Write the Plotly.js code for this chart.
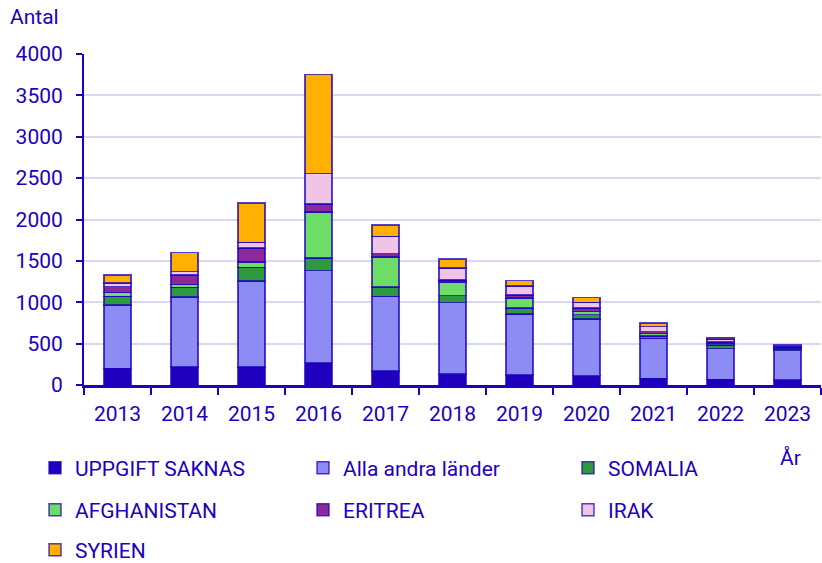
<!DOCTYPE html>
<html>
<head>
<meta charset="utf-8">
<script src="https://cdn.plot.ly/plotly-3.0.1.min.js"></script>
<style>html,body{margin:0;padding:0;background:#fff;}#chart{width:822px;height:563px;}</style>
</head>
<body>
<div id="chart"></div>
<script>
const years = ['2013','2014','2015','2016','2017','2018','2019','2020','2021','2022','2023'];
const uppgiftSaknas = [200, 215, 215, 270, 170, 133, 121, 113, 81, 69, 60];
const allaAndra     = [765, 846, 1044, 1113, 900, 863, 738, 682, 484, 370, 355];
const somalia       = [105, 120, 164, 154, 115, 85, 69, 56, 30, 45, 20];
const afghanistan   = [50, 33, 65, 556, 363, 162, 125, 36, 26, 20, 15];
const eritrea       = [70, 117, 169, 97, 40, 27, 32, 41, 24, 16, 12];
const irak          = [40, 40, 68, 363, 209, 142, 109, 72, 60, 33, 12];
const syrien        = [100, 229, 475, 1200, 134, 113, 68, 56, 42, 24, 10];

const seriesNames = ['UPPGIFT SAKNAS','Alla andra länder','SOMALIA','AFGHANISTAN','ERITREA','IRAK','SYRIEN'];
const seriesData = [uppgiftSaknas, allaAndra, somalia, afghanistan, eritrea, irak, syrien];
const seriesColors = ['#1e00be','#8c8cf4','#2e9a40','#6edd68','#8c2a9a','#f0c4e6','#ffb000'];

const txt = '#1e00be';
const FONT = 'Roboto, sans-serif';
const legendIds = ['legend','legend2','legend3','legend4','legend5','legend6','legend7'];
const traces = seriesNames.map((n,i)=>({
  type:'bar', name:n, x:years, y:seriesData[i],
  marker:{color:seriesColors[i], line:{color:'rgba(30,0,190,0.75)', width:1.5}},
  legend: legendIds[i], hoverinfo:'name+y'
}));

// legend slot positions (pixels in the 822x563 page): 3 columns x 3 rows
const colX = [35, 303, 568];
const rowY = [468, 510, 550];

const layout = {
  width:822, height:563,
  margin:{l:84, r:1, t:54, b:178, autoexpand:false},
  paper_bgcolor:'#fff', plot_bgcolor:'#fff',
  barmode:'stack', bargap:0.6,
  font:{family:FONT, size:21, color:txt},
  showlegend:true,
  xaxis:{type:'category', tickson:'boundaries', ticks:'outside', ticklen:7, tickcolor:txt, tickwidth:2,
    showline:true, linecolor:txt, linewidth:3, showgrid:false, ticklabelstandoff:8,
    tickfont:{family:FONT, size:21, color:txt}},
  yaxis:{range:[0,4000], dtick:500, ticks:'outside', ticklen:6, tickcolor:txt, tickwidth:2,
    showline:true, linecolor:txt, linewidth:2, gridcolor:'#d8d8f0', gridwidth:2, zeroline:false,
    ticklabelstandoff:9,
    tickfont:{family:FONT, size:21, color:txt}},
  annotations:[
    {text:'Antal', xref:'paper', yref:'paper', x:-0.103, y:1.112, xanchor:'left', yanchor:'middle', showarrow:false,
     font:{family:FONT, size:21, color:txt}},
    {text:'År', xref:'paper', yref:'paper', x:0.958, y:-0.2205, xanchor:'center', yanchor:'middle', showarrow:false,
     font:{family:FONT, size:21, color:txt}}
  ]
};
legendIds.forEach((id,i)=>{
  const c = i % 3, r = Math.floor(i / 3);
  layout[id] = {orientation:'v', xref:'container', yref:'container', xanchor:'left', yanchor:'middle',
    x: colX[c]/822, y: 1 - rowY[r]/563, bgcolor:'rgba(0,0,0,0)', borderwidth:0,
    font:{family:FONT, size:21, color:txt}, itemwidth:30};
});
Plotly.newPlot('chart', traces, layout, {displayModeBar:false, staticPlot:true});
</script>
</body>
</html>
